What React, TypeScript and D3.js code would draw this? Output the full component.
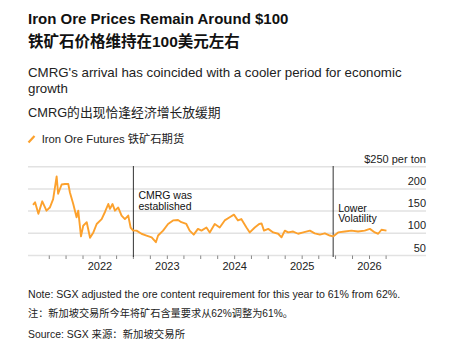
import * as d3 from "d3";

// Iron ore futures, $ per ton
const dates = [
  "2021-01-03", "2021-01-14", "2021-02-01", "2021-02-22", "2021-03-17", "2021-04-04",
  "2021-04-22", "2021-05-11", "2021-05-19", "2021-06-07", "2021-06-25", "2021-07-13",
  "2021-07-22", "2021-08-09", "2021-08-27", "2021-09-05", "2021-09-20", "2021-10-02",
  "2021-10-21", "2021-11-08", "2021-11-26", "2021-12-14", "2022-01-10", "2022-01-28",
  "2022-02-15", "2022-02-24", "2022-03-10", "2022-03-23", "2022-04-10", "2022-04-28",
  "2022-05-16", "2022-06-03", "2022-06-16", "2022-06-30", "2022-07-18", "2022-08-14",
  "2022-09-10", "2022-10-08", "2022-10-31", "2022-11-12", "2022-12-09", "2023-01-05",
  "2023-02-01", "2023-02-28", "2023-03-18", "2023-04-14", "2023-05-02", "2023-05-24",
  "2023-06-16", "2023-07-05", "2023-08-01", "2023-08-19", "2023-09-15", "2023-10-12",
  "2023-11-08", "2023-12-05", "2023-12-28", "2024-01-19", "2024-02-06", "2024-03-05",
  "2024-03-23", "2024-04-19", "2024-05-13", "2024-05-26", "2024-06-08", "2024-07-01",
  "2024-07-28", "2024-08-24", "2024-09-11", "2024-09-29", "2024-10-17", "2024-11-13",
  "2024-12-10", "2025-01-07", "2025-02-12", "2025-03-10", "2025-04-07", "2025-05-04",
  "2025-05-31", "2025-06-18", "2025-07-15", "2025-08-20", "2025-09-25", "2025-10-31",
  "2025-12-06", "2026-01-03", "2026-01-30", "2026-02-17", "2026-03-07", "2026-04-03",
];
const prices = [
  164, 170, 144, 172, 151, 158,
  177, 228, 189, 210, 211, 211,
  192, 166, 136, 151, 93, 117,
  125, 90, 102, 121, 132, 148,
  166, 155, 166, 151, 158, 140,
  132, 140, 113, 106, 106, 99,
  95, 91, 80, 95, 106, 121,
  129, 130, 125, 121, 106, 97,
  110, 106, 113, 102, 121, 113,
  129, 136, 142, 129, 132, 113,
  102, 113, 121, 122, 106, 110,
  102, 99, 91, 106, 102, 104,
  99, 102, 106, 100, 97, 100,
  95, 93, 102, 104, 106, 104,
  106, 110, 102, 99, 108, 106,
];

const yTicks = [50, 100, 150, 200, 250];
const yearTicks = ["2022-01-01", "2023-01-01", "2024-01-01", "2025-01-01", "2026-01-01"];
const events = [
  { date: "2022-07-01", lines: ["CMRG was", "established"] },
  { date: "2025-06-18", lines: ["Lower", "Volatility"] },
];

const FONT = "'Liberation Sans', Arial, 'Noto Sans CJK SC', sans-serif";
const ORANGE = "#fca12d";

export default function App() {
  const width = 460;
  const height = 360;
  const left = 28;
  const right = 426;

  const parse = d3.utcParse("%Y-%m-%d");
  const data = dates.map((d, i) => ({ date: parse(d)!, value: prices[i] }));

  const x = d3
    .scaleUtc()
    .domain([parse("2022-01-01")!, parse("2026-01-01")!])
    .range([100, 369.5]);
  const y = d3.scaleLinear().domain([50, 250]).range([255.5, 166.7]);

  const line = d3
    .line<{ date: Date; value: number }>()
    .x((d) => x(d.date))
    .y((d) => y(d.value));

  const quarterTicks = d3.utcMonth
    .every(3)!
    .range(parse("2021-04-01")!, parse("2026-04-02")!);

  return (
    <svg
      width={width}
      height={height}
      style={{ position: "absolute", left: 0, top: 0, background: "#fff" }}
      fontFamily={FONT}
    >
      <text x={left} y={23.5} fontSize={15} fontWeight="bold" fill="#111">
        Iron Ore Prices Remain Around $100
      </text>
      <text x={left} y={47} fontSize={15.5} fontWeight="bold" fill="#111">
        铁矿石价格维持在100美元左右
      </text>
      <text x={left} y={77.3} fontSize={13.3} fill="#222">
        CMRG's arrival has coincided with a cooler period for economic
      </text>
      <text x={left} y={93.3} fontSize={13.3} fill="#222">
        growth
      </text>
      <text x={left} y={116.5} fontSize={12.8} fill="#222">
        CMRG的出现恰逢经济增长放缓期
      </text>

      {/* legend */}
      <line x1={28.5} y1={142.5} x2={34.5} y2={136} stroke={ORANGE} strokeWidth={2.2} />
      <text x={41.7} y={143} fontSize={11.3} fill="#222">
        Iron Ore Futures 铁矿石期货
      </text>

      {/* gridlines */}
      {yTicks.map((t) => (
        <line key={t} x1={left} x2={right} y1={y(t)} y2={y(t)} stroke="#e2e2e2" strokeWidth={1.5} />
      ))}
      {yTicks.slice(0, -1).map((t) => (
        <text key={t} x={right} y={y(t) - 4} textAnchor="end" fontSize={11} fill="#222">
          {t}
        </text>
      ))}
      <text x={right} y={y(250) - 4} textAnchor="end" fontSize={11} fill="#222">
        $250 per ton
      </text>

      {/* x axis ticks */}
      {quarterTicks.map((t) => (
        <line key={t.toISOString()} x1={x(t)} x2={x(t)} y1={255.5} y2={259} stroke="#888" strokeWidth={1} />
      ))}
      {yearTicks.map((d) => (
        <text key={d} x={x(parse(d)!)} y={270} textAnchor="middle" fontSize={11} fill="#222">
          {d.slice(0, 4)}
        </text>
      ))}

      {/* events */}
      {events.map((e) => {
        const ex = x(parse(e.date)!);
        return (
          <g key={e.date}>
            <line x1={ex} x2={ex} y1={166} y2={257} stroke="#333" strokeWidth={1} />
            {e.lines.map((l, i) => (
              <text key={l} x={ex + 5} y={(e.date < "2023" ? 199.3 : 211.5) + i * 10.5} fontSize={10.5} fill="#111">
                {l}
              </text>
            ))}
          </g>
        );
      })}

      <path d={line(data) ?? ""} fill="none" stroke={ORANGE} strokeWidth={1.9} strokeLinejoin="round" />

      {/* footnotes */}
      <text x={left} y={298} fontSize={10.6} fill="#222">
        Note: SGX adjusted the ore content requirement for this year to 61% from 62%.
      </text>
      <text x={left} y={316.7} fontSize={10.2} fill="#222">
        注：新加坡交易所今年将矿石含量要求从62%调整为61%。
      </text>
      <text x={left} y={338} fontSize={10.4} fill="#222">
        Source: SGX 来源：新加坡交易所
      </text>
    </svg>
  );
}
